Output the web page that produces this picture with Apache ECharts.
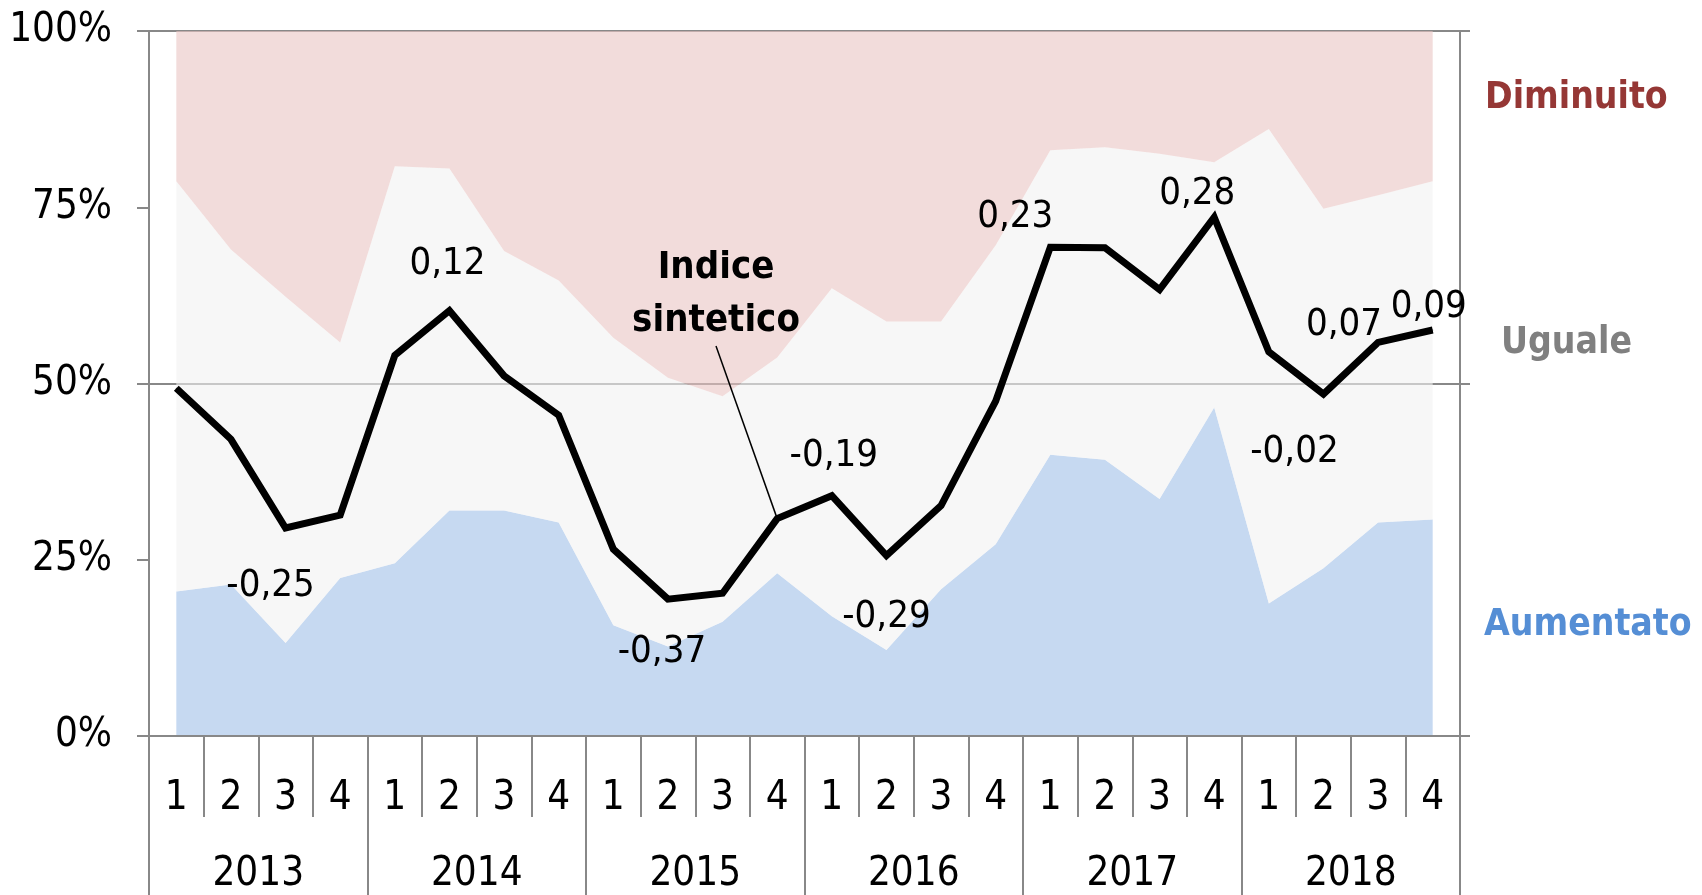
<!DOCTYPE html>
<html>
<head>
<meta charset="utf-8">
<title>Indice sintetico</title>
<script src="https://cdn.jsdelivr.net/npm/echarts@6/dist/echarts.min.js"></script>
<style>
	html, body { margin: 0; padding: 0; background: #fff; }
	#main { width: 1702px; height: 895px; }
</style>
</head>
<body>
<div id="main"></div>
<script>
	var quarters = ['1','2','3','4','1','2','3','4','1','2','3','4','1','2','3','4','1','2','3','4','1','2','3','4'];
	var years = ['2013', '2014', '2015', '2016', '2017', '2018'];
	var pctTicks = [0, 25, 50, 75, 100];

	// quote % per trimestre
	var aumentato = [20.5, 21.5, 13.2, 22.4, 24.5, 32.0, 32.0, 30.3, 15.7, 12.7, 16.2, 23.1,
		17.0, 12.2, 20.8, 27.2, 39.9, 39.2, 33.6, 46.6, 18.8, 23.8, 30.3, 30.7];
	var uguale = [58.2, 47.5, 49.1, 33.4, 56.3, 48.5, 36.8, 34.3, 40.8, 38.1, 32.0, 30.6,
		46.5, 46.6, 38.0, 42.4, 43.2, 44.3, 49.0, 34.8, 67.3, 51.0, 46.4, 48.0];
	var diminuito = [21.3, 31.0, 37.7, 44.2, 19.2, 19.5, 31.2, 35.4, 43.5, 49.2, 51.8, 46.3,
		36.5, 41.2, 41.2, 30.4, 16.9, 16.5, 17.4, 18.6, 13.9, 25.2, 23.3, 21.3];
	// indice sintetico (asse destro)
	var indice = [-0.008, -0.095, -0.246, -0.224, 0.048, 0.124, 0.013, -0.054, -0.282, -0.367, -0.357, -0.230,
		-0.191, -0.293, -0.208, -0.030, 0.232, 0.231, 0.160, 0.283, 0.054, -0.018, 0.070, 0.091];
	var labelled = [2, 5, 9, 12, 13, 16, 19, 21, 22, 23];

	// spostamento etichette (px)
	var labelOffset = {
		2: [-15, 58], 5: [-2, -47], 9: [-6, 53], 12: [2, -40], 13: [0, 61],
		16: [-35, -30], 19: [-17, -23], 21: [-29, 58], 22: [-34, -17], 23: [-4, -23]
	};

	var FONT = '"DejaVu Sans Condensed", "DejaVu Sans", sans-serif';
	var AXIS = '#888888';

	var myChart = echarts.init(document.getElementById('main'));

	var lineData = indice.map(function(v, i) {
		if (labelled.indexOf(i) < 0) return v;
		return { value: v, label: { show: true, offset: labelOffset[i] } };
	});

	var option = {
		animation: false,
		backgroundColor: '#fff',
		textStyle: { fontFamily: FONT },
		grid: { left: 149, right: 242, top: 31, bottom: 159 },
		xAxis: [
			{
				type: 'category',
				data: quarters,
				boundaryGap: true,
				z: 5,
				axisLine: { onZero: false, lineStyle: { color: AXIS, width: 2 } },
				axisTick: { show: true, interval: 0, length: 81, lineStyle: { color: AXIS, width: 2 } },
				axisLabel: { interval: 0, margin: 43, fontSize: 40, lineHeight: 40, color: '#000', fontFamily: FONT }
			},
			{
				type: 'category',
				data: years,
				position: 'bottom',
				boundaryGap: true,
				axisLine: { show: false, onZero: false },
				axisTick: { show: true, interval: 0, length: 170, lineStyle: { color: AXIS, width: 2 } },
				axisLabel: { interval: 0, margin: 119, fontSize: 40, lineHeight: 40, color: '#000', fontFamily: FONT }
			}
		],
		yAxis: [
			{
				type: 'value',
				min: 0, max: 100, interval: 25,
				axisLine: { show: true, lineStyle: { color: AXIS, width: 2 } },
				axisTick: { show: true, length: 12, lineStyle: { color: AXIS, width: 2 } },
				splitLine: { show: false },
				axisLabel: {
					margin: 37, fontSize: 40, color: '#000', fontFamily: FONT,
					formatter: function(v) { return pctTicks.indexOf(v) >= 0 ? v + '%' : ''; }
				}
			},
			{
				type: 'value',
				min: -0.6, max: 0.6, interval: 0.6,
				position: 'right',
				axisLine: { show: true, lineStyle: { color: AXIS, width: 2 } },
				axisTick: { show: true, length: 10, lineStyle: { color: AXIS, width: 2 } },
				axisLabel: { show: false },
				splitLine: { show: true, lineStyle: { color: AXIS, width: 2 } }
			}
		],
		series: [
			{
				name: 'Aumentato',
				type: 'line',
				stack: 'quote',
				symbol: 'none',
				lineStyle: { width: 0 },
				areaStyle: { color: '#A0C0E8', opacity: 0.6 },
				data: aumentato
			},
			{
				name: 'Uguale',
				type: 'line',
				stack: 'quote',
				symbol: 'none',
				lineStyle: { width: 0 },
				areaStyle: { color: '#F2F2F2', opacity: 0.6 },
				data: uguale
			},
			{
				name: 'Diminuito',
				type: 'line',
				stack: 'quote',
				symbol: 'none',
				lineStyle: { width: 0 },
				areaStyle: { color: '#E9C5C3', opacity: 0.6 },
				data: diminuito
			},
			{
				name: 'Indice sintetico',
				type: 'line',
				yAxisIndex: 1,
				z: 6,
				symbol: 'circle',
				symbolSize: 1,
				showSymbol: true,
				itemStyle: { color: '#000' },
				lineStyle: { color: '#000', width: 7, join: 'miter' },
				label: {
					show: false,
					position: 'inside',
					align: 'center',
					verticalAlign: 'middle',
					fontSize: 38,
					color: '#000',
					fontFamily: FONT,
					formatter: function(p) { return p.value.toFixed(2).replace('.', ','); }
				},
				markLine: {
					silent: true,
					symbol: 'none',
					label: { show: false },
					lineStyle: { color: '#000', width: 1.5, type: 'solid' },
					data: [[{ x: 716, y: 346 }, { coord: [11, indice[11]] }]]
				},
				data: lineData
			}
		],
		graphic: [
			{
				type: 'text', x: 716, y: 295, z: 10,
				style: { text: 'Indice\nsintetico', fontSize: 38, fontWeight: 'bold', lineHeight: 53, align: 'center', verticalAlign: 'middle', fill: '#000', fontFamily: FONT }
			},
			{
				type: 'text', left: 1485, top: 80, z: 10,
				style: { text: 'Diminuito', fontSize: 37, fontWeight: 'bold', fill: '#953735', fontFamily: FONT }
			},
			{
				type: 'text', left: 1501, top: 325, z: 10,
				style: { text: 'Uguale', fontSize: 37, fontWeight: 'bold', fill: '#808080', fontFamily: FONT }
			},
			{
				type: 'text', left: 1484, top: 607, z: 10,
				style: { text: 'Aumentato', fontSize: 37, fontWeight: 'bold', fill: '#558ED5', fontFamily: FONT }
			}
		]
	};
	myChart.setOption(option);
</script>
</body>
</html>
